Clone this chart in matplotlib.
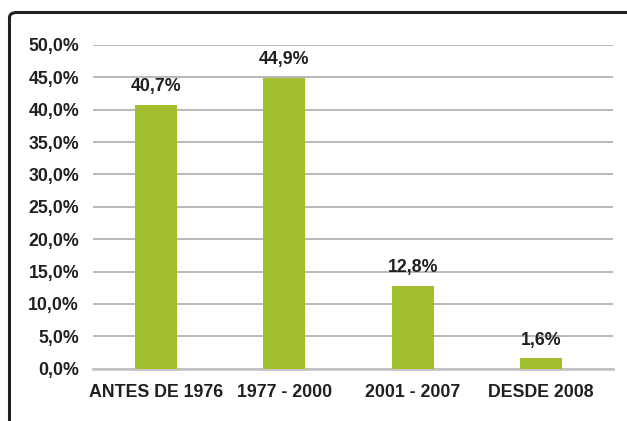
import matplotlib

matplotlib.use("Agg")
import matplotlib.pyplot as plt
from matplotlib.patches import FancyBboxPatch
from matplotlib.ticker import FuncFormatter

categories = ["ANTES DE 1976", "1977 - 2000", "2001 - 2007", "DESDE 2008"]
values = [40.7, 44.9, 12.8, 1.6]
labels = ["40,7%", "44,9%", "12,8%", "1,6%"]

BAR = "#a2bf2f"
TEXT = "#231f20"
GRID = "#b3b3b3"

plt.rcParams["font.family"] = ["Liberation Sans", "DejaVu Sans"]
plt.rcParams["font.weight"] = "bold"

fig = plt.figure(figsize=(6.27, 4.21), dpi=100)

# marco redondeado (se sale por la derecha y por abajo)
frame = FancyBboxPatch((9.5 / 627, -0.1), 1.0, 1.1 - 12.5 / 421,
                       boxstyle="round,pad=0,rounding_size=0.012",
                       transform=fig.transFigure, fill=False,
                       edgecolor="#231f20", linewidth=2.2)
fig.patches.append(frame)

ax = fig.add_axes([93 / 627, 1 - 368.7 / 421, 520 / 627, (368.7 - 45) / 421])
x = range(len(categories))
ax.bar(x, values, width=0.33, color=BAR, zorder=3)
ax.set_xlim(-0.49, 3.56)
ax.set_ylim(0, 50)
ax.set_yticks([i * 5 for i in range(11)])
ax.yaxis.set_major_formatter(FuncFormatter(lambda v, _: f"{v:.1f}%".replace(".", ",")))
ax.set_xticks(list(x))
ax.set_xticklabels(categories)

ax.grid(axis="y", color=GRID, linewidth=1.3, zorder=0)
for s in ["top", "right", "left"]:
    ax.spines[s].set_visible(False)
ax.spines["bottom"].set_color("#c4c4c4")
ax.spines["bottom"].set_linewidth(2)
ax.tick_params(axis="both", length=0, labelsize=12.8, colors=TEXT)
ax.tick_params(axis="y", pad=10)
ax.tick_params(axis="x", pad=11)

for i, (v, lab) in enumerate(zip(values, labels)):
    ax.annotate(lab, (i, v), xytext=(0, 7), textcoords="offset points",
                ha="center", va="bottom", fontsize=12.8, color=TEXT,
                fontweight="bold")

fig.savefig("out.png", dpi=100)
